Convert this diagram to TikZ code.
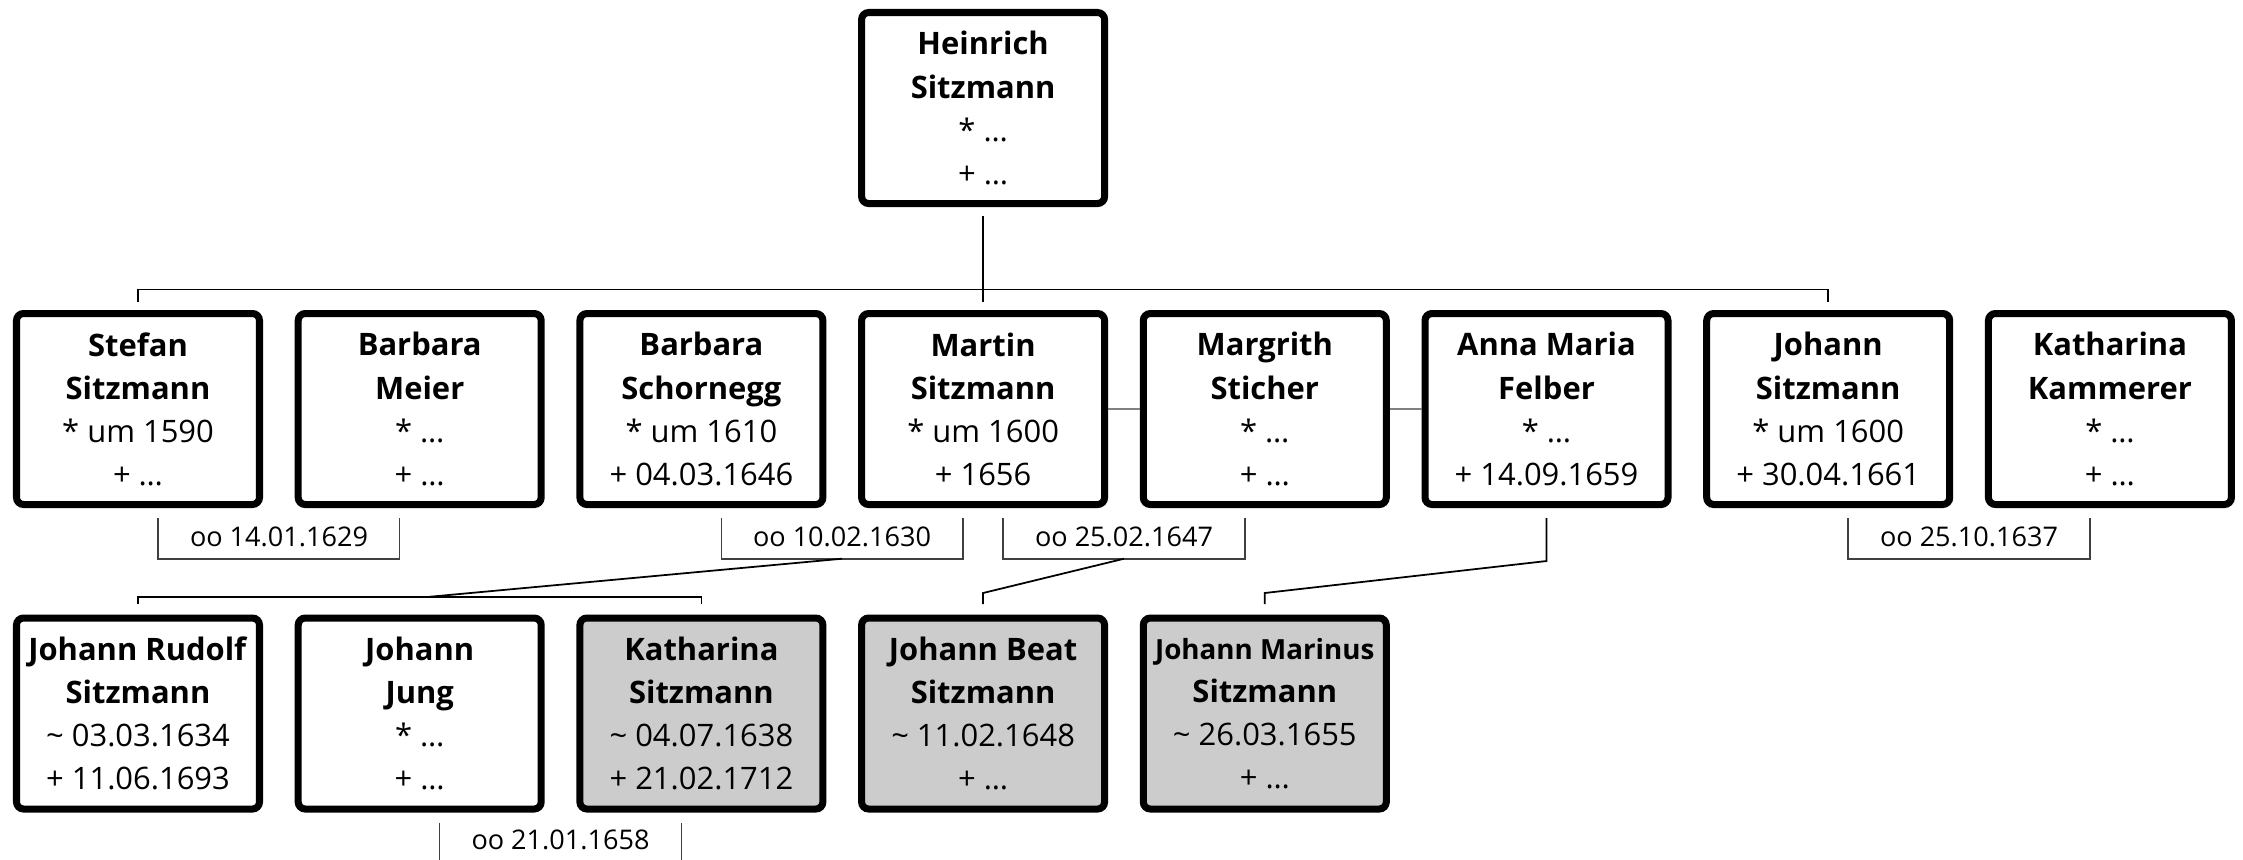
\documentclass[tikz,border=0pt]{standalone}
\usepackage{fontspec}
\setmainfont{Open Sans}
\definecolor{kidfill}{gray}{0.8}
\begin{document}
\begin{tikzpicture}[
  person/.style={draw, line width=2pt, rounded corners=2pt, minimum width=2.43cm, minimum height=1.91cm,
    inner sep=0pt, align=center, font=\fontsize{8.8}{12.25}\selectfont},
  kid/.style={person, fill=kidfill},
  wedlabel/.style={inner sep=0pt, minimum height=4.3mm, font=\fontsize{7.7}{10}\selectfont},
  tree/.style={line width=0.5pt},
  wed/.style={line width=0.45pt, black!75},
  spouse/.style={line width=0.45pt, black!50}]
\useasboundingbox (0,0) rectangle (22.43,-8.59);
% generation 1
\node[person] (heinrich) at (9.831,-1.08) {\textbf{Heinrich}\\\textbf{Sitzmann}\\{*} …\\+ …};
% generation 2
\node[person] (stefan) at (1.38,-4.09) {\textbf{Stefan}\\\textbf{Sitzmann}\\{*} um 1590\\+ …};
\node[person] (meier) at (4.197,-4.09) {\textbf{Barbara}\\\textbf{Meier}\\{*} …\\+ …};
\node[person] (schornegg) at (7.014,-4.09) {\textbf{Barbara}\\\textbf{Schornegg}\\{*} um 1610\\+ 04.03.1646};
\node[person] (martin) at (9.831,-4.09) {\textbf{Martin}\\\textbf{Sitzmann}\\{*} um 1600\\+ 1656};
\node[person] (margrith) at (12.648,-4.09) {\textbf{Margrith}\\\textbf{Sticher}\\{*} …\\+ …};
\node[person] (anna) at (15.465,-4.09) {\textbf{Anna Maria}\\\textbf{Felber}\\{*} …\\+ 14.09.1659};
\node[person] (johann) at (18.282,-4.09) {\textbf{Johann}\\\textbf{Sitzmann}\\{*} um 1600\\+ 30.04.1661};
\node[person] (kammerer) at (21.099,-4.09) {\textbf{Katharina}\\\textbf{Kammerer}\\{*} …\\+ …};
% generation 3
\node[person] (rudolf) at (1.38,-7.135) {\textbf{Johann Rudolf}\\\textbf{Sitzmann}\\\textasciitilde{} 03.03.1634\\+ 11.06.1693};
\node[person] (jung) at (4.197,-7.135) {\textbf{Johann}\\\textbf{Jung}\\{*} …\\+ …};
\node[kid] (kathS) at (7.014,-7.135) {\textbf{Katharina}\\\textbf{Sitzmann}\\\textasciitilde{} 04.07.1638\\+ 21.02.1712};
\node[kid] (beat) at (9.831,-7.135) {\textbf{Johann Beat}\\\textbf{Sitzmann}\\\textasciitilde{} 11.02.1648\\+ …};
\node[kid] (marinus) at (12.648,-7.135) {{\fontsize{7.9}{12.25}\selectfont\textbf{Johann Marinus}}\\\textbf{Sitzmann}\\\textasciitilde{} 26.03.1655\\+ …};
% marriages
\node[wedlabel] (w1629) at (2.79,-5.365) {oo 14.01.1629};
\node[wedlabel] (w1630) at (8.42,-5.365) {oo 10.02.1630};
\node[wedlabel] (w1647) at (11.24,-5.365) {oo 25.02.1647};
\node[wedlabel] (w1637) at (19.69,-5.365) {oo 25.10.1637};
\node[wedlabel] (w1658) at (5.605,-8.395) {oo 21.01.1658};
\draw[wed] ([xshift=2mm,yshift=-1mm]stefan.south) |- (w1629.south) -| ([xshift=-2mm,yshift=-1mm]meier.south);
\draw[wed] ([xshift=2mm,yshift=-1mm]schornegg.south) |- (w1630.south) -| ([xshift=-2mm,yshift=-1mm]martin.south);
\draw[wed] ([xshift=2mm,yshift=-1mm]martin.south) |- (w1647.south) -| ([xshift=-2mm,yshift=-1mm]margrith.south);
\draw[wed] ([xshift=2mm,yshift=-1mm]johann.south) |- (w1637.south) -| ([xshift=-2mm,yshift=-1mm]kammerer.south);
\draw[wed] ([xshift=2mm,yshift=-1mm]jung.south) |- (w1658.south) -| ([xshift=-2mm,yshift=-1mm]kathS.south);
\draw[spouse] (martin.east) -- (margrith.west);
\draw[spouse] (margrith.east) -- (anna.west);
% descent
\draw[tree] ([yshift=-0.85mm]heinrich.south) -- ([yshift=0.85mm]martin.north);
\draw[tree] ([yshift=0.85mm]stefan.north) |- ([yshift=2.05mm]martin.north) -| ([yshift=0.85mm]johann.north);
\coordinate (kids1630) at (4.27,-5.97);
\draw[tree] (w1630.south) -- (kids1630);
\draw[tree] ([yshift=1.05mm]rudolf.north) |- (kids1630) -| ([yshift=1.05mm]kathS.north);
\draw[tree] (w1647.south) -- ([yshift=2.15mm]beat.north) -- ([yshift=1.05mm]beat.north);
\draw[tree] ([yshift=-1mm]anna.south) -- ++(0,-0.43) -- ([yshift=2.15mm]marinus.north) -- ([yshift=1.05mm]marinus.north);
\end{tikzpicture}
\end{document}
